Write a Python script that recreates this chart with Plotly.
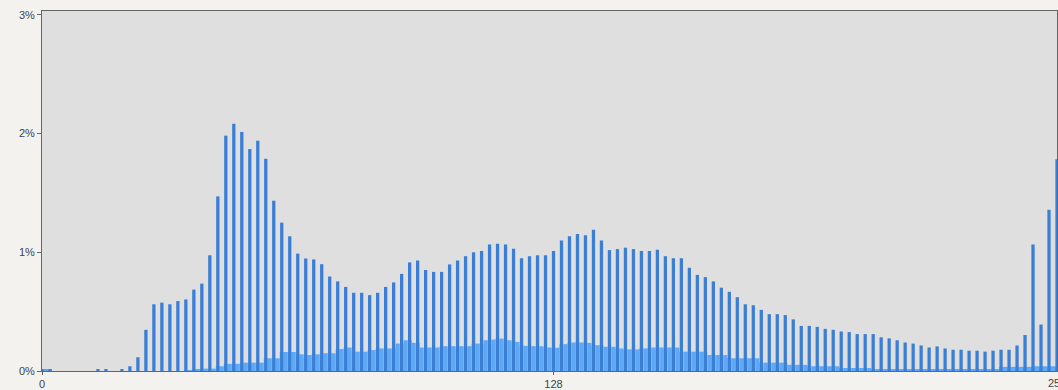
import plotly.graph_objects as go

# ---- data (percent) ----
dark_x = list(range(0, 256, 2))
dark_y = [
    0.015, 0.015, 0, 0, 0, 0, 0, 0.015, 0.015, 0,          # 0-18
    0.015, 0.04, 0.116, 0.347, 0.562, 0.576, 0.562, 0.589, 0.603, 0.686,  # 20-38
    0.736, 0.975, 1.471, 1.983, 2.083, 2.014, 1.870, 1.94, 1.788, 1.435,  # 40-58
    1.25, 1.135, 0.989, 0.948, 0.94, 0.90, 0.796, 0.755, 0.708, 0.659,    # 60-78
    0.659, 0.639, 0.659, 0.708, 0.746, 0.818, 0.915, 0.931, 0.851, 0.835, # 80-98
    0.835, 0.898, 0.931, 0.967, 1.0, 1.011, 1.066, 1.072, 1.066, 1.03,    # 100-118
    0.95, 0.967, 0.975, 0.975, 1.011, 1.099, 1.135, 1.154, 1.143, 1.19,   # 120-138
    1.099, 1.019, 1.027, 1.039, 1.027, 1.011, 1.011, 1.022, 0.967, 0.95,  # 140-158
    0.95, 0.87, 0.81, 0.791, 0.755, 0.702, 0.667, 0.622, 0.562, 0.554,    # 160-178
    0.515, 0.479, 0.479, 0.471, 0.435, 0.38, 0.38, 0.372, 0.355, 0.347,   # 180-198
    0.333, 0.328, 0.311, 0.311, 0.311, 0.284, 0.275, 0.259, 0.24, 0.231,  # 200-218
    0.215, 0.198, 0.207, 0.19, 0.179, 0.179, 0.171, 0.171, 0.163, 0.171,  # 220-238
    0.179, 0.179, 0.215, 0.303, 1.066, 0.391, 1.358, 1.783,               # 240-254
]

light_x = list(range(0, 256))
light_y = [
    0.015, 0.015, 0.015, 0, 0, 0, 0, 0, 0, 0,                       # 0-9
    0, 0, 0, 0, 0, 0, 0, 0, 0, 0,                                   # 10-19
    0, 0, 0, 0, 0, 0, 0, 0, 0, 0,                                   # 20-29
    0, 0, 0, 0, 0, 0, 0.005, 0.005, 0.01, 0.01,                     # 30-39
    0.02, 0.02, 0.02, 0.02, 0.04, 0.04, 0.06, 0.06, 0.06, 0.06,     # 40-49
    0.07, 0.07, 0.07, 0.07, 0.07, 0.07, 0.107, 0.107, 0.107, 0.107, # 50-59
    0.16, 0.16, 0.16, 0.16, 0.14, 0.14, 0.135, 0.135, 0.14, 0.14,   # 60-69
    0.15, 0.15, 0.149, 0.149, 0.185, 0.185, 0.198, 0.198, 0.163, 0.163, # 70-79
    0.163, 0.163, 0.176, 0.176, 0.19, 0.19, 0.19, 0.19, 0.19, 0.231,    # 80-89
    0.231, 0.259, 0.259, 0.237, 0.237, 0.198, 0.198, 0.198, 0.198, 0.198, # 90-99
    0.209, 0.209, 0.209, 0.209, 0.209, 0.209, 0.209, 0.209, 0.231, 0.231, # 100-109
    0.231, 0.259, 0.259, 0.265, 0.273, 0.273, 0.259, 0.259, 0.245, 0.245, # 110-119
    0.217, 0.212, 0.212, 0.209, 0.209, 0.209, 0.198, 0.198, 0.196, 0.196, # 120-129
    0.226, 0.226, 0.237, 0.24, 0.24, 0.24, 0.24, 0.237, 0.217, 0.217,     # 130-139
    0.217, 0.204, 0.204, 0.204, 0.19, 0.19, 0.182, 0.182, 0.182, 0.182,   # 140-149
    0.19, 0.19, 0.19, 0.198, 0.198, 0.198, 0.198, 0.198, 0.198, 0.198,    # 150-159
    0.163, 0.163, 0.163, 0.163, 0.163, 0.163, 0.163, 0.135, 0.135, 0.135, # 160-169
    0.135, 0.135, 0.107, 0.107, 0.107, 0.107, 0.107, 0.107, 0.107, 0.107, # 170-179
    0.07, 0.07, 0.07, 0.07, 0.07, 0.07, 0.07, 0.052, 0.052, 0.052,        # 180-189
    0.052, 0.052, 0.04, 0.04, 0.04, 0.04, 0.04, 0.04, 0.04, 0.04,         # 190-199
    0.025, 0.025, 0.025, 0.025, 0.025, 0.025, 0.025, 0.025, 0.015, 0.015, # 200-209
    0.015, 0.015, 0.015, 0.015, 0.015, 0.015, 0.015, 0.015, 0.015, 0.015, # 210-219
    0.015, 0.015, 0.015, 0.015, 0.015, 0.015, 0.015, 0.015, 0.015, 0.015, # 220-229
    0.015, 0.015, 0.015, 0.015, 0.015, 0.015, 0.015, 0.015, 0.015, 0.015, # 230-239
    0.035, 0.035, 0.035, 0.035, 0.035, 0.035, 0.035, 0.035, 0.04, 0.04,   # 240-249
    0.04, 0.04, 0.04, 0.04, 0.04, 0.04,                                   # 250-255
]

y_tick_vals = [0, 1, 2, 3]
y_tick_text = ["0%", "1%", "2%", "3%"]
x_tick_vals = [0, 128]
x_tick_text = ["0", "128"]
x_end_label = 255

X_RANGE = [0, 254]
Y_RANGE = [0, 3.033]

DARK = "#3b7ed6"
LIGHT = "#5ea8f4"
FONT = dict(family="Liberation Sans, Arial, sans-serif", size=11, color="#444444")

fig = go.Figure()
fig.add_trace(go.Bar(x=light_x, y=light_y, width=1.0,
                     marker=dict(color=LIGHT, line=dict(width=0)),
                     hoverinfo="skip"))
fig.add_trace(go.Bar(x=dark_x, y=dark_y, width=0.82,
                     marker=dict(color=DARK, line=dict(width=0))))

fig.update_layout(
    width=1058, height=390,
    margin=dict(l=42, r=0, t=11, b=12),
    barmode="overlay",
    showlegend=False,
    paper_bgcolor="#f3f2ee",
    plot_bgcolor="#dfdfdf",
    font=FONT,
    xaxis=dict(range=X_RANGE, tickvals=x_tick_vals, ticktext=x_tick_text,
               ticks="outside", ticklen=3, tickcolor="#666666",
               showgrid=False, zeroline=False,
               showline=True, linecolor="#666666", linewidth=1, mirror=True,
               tickfont=FONT),
    yaxis=dict(range=Y_RANGE, tickvals=y_tick_vals, ticktext=y_tick_text,
               ticks="outside", ticklen=4, tickcolor="#666666",
               showgrid=False, zeroline=False,
               showline=True, linecolor="#666666", linewidth=1, mirror=True,
               tickfont=FONT),
)

# the last tick label lies just beyond the visible right edge (as in the reference)
fig.add_annotation(
    x=(x_end_label - X_RANGE[0]) / (X_RANGE[1] - X_RANGE[0]), xref="paper",
    y=0, yref="paper", yanchor="top", xanchor="center",
    xshift=-4, yshift=-4, text=str(x_end_label), showarrow=False, font=FONT,
)

fig.write_html("out.html")
